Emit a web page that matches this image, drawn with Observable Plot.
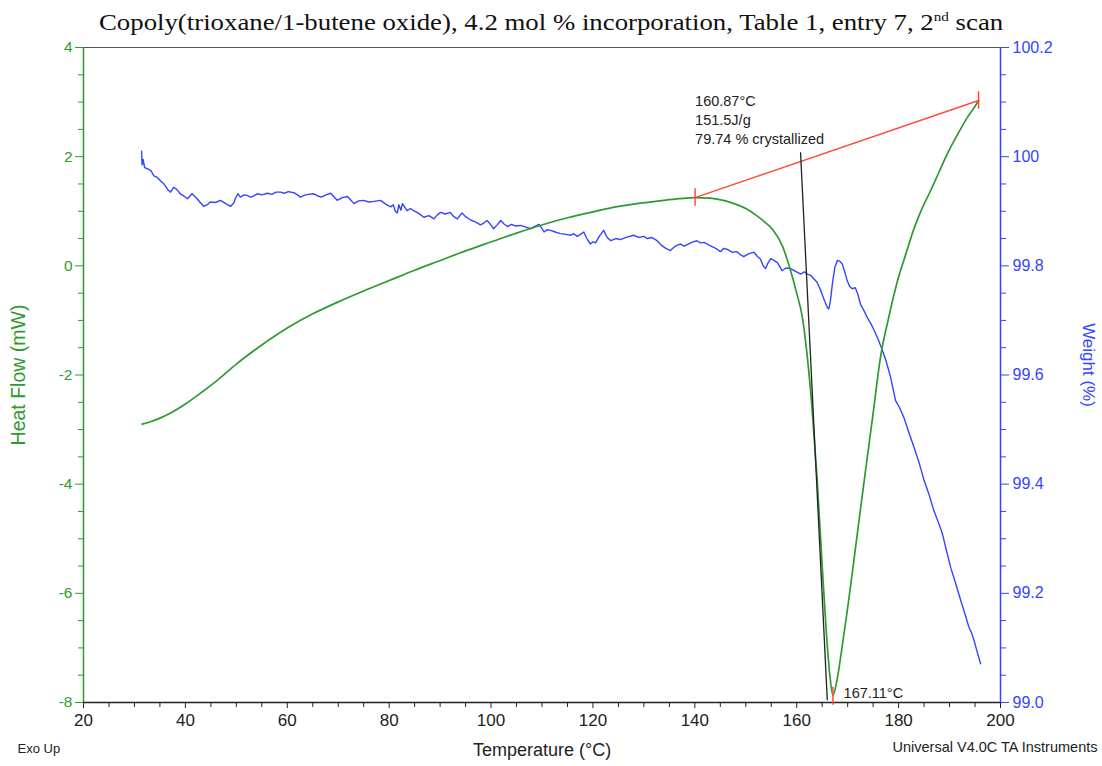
<!DOCTYPE html>
<html><head><meta charset="utf-8">
<script src="https://cdn.jsdelivr.net/npm/d3@7"></script>
<script src="https://cdn.jsdelivr.net/npm/@observablehq/plot@0.6"></script>
<style>
body{margin:0;background:#fff;width:1102px;height:766px;overflow:hidden;font-family:"Liberation Sans",Arial,sans-serif;}
#title{position:absolute;left:0;top:0;width:1102px;height:40px;text-align:center;font-family:"Liberation Serif","Times New Roman",serif;font-size:23px;line-height:46px;color:#111;white-space:nowrap;}
#title span{display:inline-block;transform:scaleX(1.165);transform-origin:center;}
#title sup{font-size:13px;vertical-align:0;position:relative;top:-9px}
#chart{position:absolute;left:0;top:40px;}
</style></head><body>
<div id="title"><span>Copoly(trioxane/1-butene oxide), 4.2 mol % incorporation, Table 1, entry 7, 2<sup>nd</sup> scan</span></div>
<div id="chart"></div>
<script>
// Heat flow (mW) vs temperature (°C)
const hfT  = [31.5,33,35,37,40,43,46.5,50,55,60,65,70,75,80,85,90.7,94,97.9,101,105,111.1,115,120,124,128,133.9,137,140,143,146,148,150,152,153.5,155.4,157.2,158.8,160,161.1,162,163,164,165,165.8,166.5,167.1,168.0,169.0,170.2,171.75,173.3,174.9,176.5,178.0,179.8,181.4,182.9,184.5,186.3,187.9,189.6,191.6,193.5,194.7,195.7];
const hfV  = [-2.90,-2.86,-2.79,-2.70,-2.53,-2.33,-2.08,-1.80,-1.45,-1.14,-0.88,-0.66,-0.46,-0.27,-0.08,0.12,0.24,0.37,0.47,0.60,0.78,0.88,0.99,1.07,1.13,1.20,1.23,1.25,1.24,1.19,1.13,1.05,0.93,0.82,0.65,0.36,-0.09,-0.50,-0.94,-1.6,-2.6,-3.9,-5.5,-6.7,-7.5,-7.87,-7.54,-6.92,-6.13,-5.01,-3.90,-2.77,-1.64,-0.97,-0.27,0.21,0.65,1.03,1.38,1.71,2.06,2.41,2.72,2.88,3.03];

// Weight (%) vs temperature (°C)
const wT = [31.4,31.5,31.7,32.0,32.5,33.2,33.8,34.5,35.2,35.8,36.5,37.1,37.7,38.3,39.0,39.7,40.4,41.3,42.3,43.0,43.6,44.3,44.9,45.9,46.9,47.9,48.9,49.5,49.8,50.3,50.8,51.5,52.1,52.8,53.4,54.1,55.0,56.1,57.0,57.8,58.7,59.5,60.2,61.3,62.0,62.6,63.3,64.0,65.2,66.0,66.7,67.6,68.5,69.2,69.8,70.8,71.8,72.5,73.1,74.0,75.0,76.0,77.0,78.3,79.3,80.3,80.8,81.2,81.6,81.9,82.3,82.6,83.5,84.2,84.8,85.8,86.8,87.8,88.8,89.4,90.1,91.0,92.0,92.7,93.4,94.3,95.0,96.0,97.0,97.9,98.5,99.2,99.8,100.5,101.2,101.9,102.5,103.2,104.0,104.8,105.8,106.8,107.8,108.5,109.4,110.0,110.4,111.0,111.7,112.6,113.6,114.5,115.6,116.2,116.9,117.6,118.2,118.8,119.5,120.0,120.5,121.3,122.1,122.8,123.5,124.5,125.4,126.5,128.0,129.0,130.0,130.7,131.5,132.6,133.4,134.3,135.2,136.0,136.6,137.2,137.9,138.5,139.4,140.4,141.1,141.8,142.8,143.7,144.4,145.0,145.7,146.4,147.3,148.3,149.0,149.6,150.5,151.6,152.3,152.9,153.4,153.9,154.4,154.9,155.5,156.2,156.7,157.1,157.9,158.8,159.8,160.8,161.5,162.1,162.8,163.4,164.0,164.7,165.5,166.0,166.3,166.6,167.0,167.5,168.0,168.5,168.9,169.4,169.9,170.4,170.9,171.5,172.0,172.5,173.2,173.8,174.5,175.2,176.0,176.7,177.5,178.4,179.4,180.2,181.0,182.0,183.0,184.0,185.0,186.0,186.9,187.8,188.6,189.4,190.2,191.2,192.2,193.0,193.8,194.3,194.8,195.5,196.1];
const wV = [100.010,99.985,99.995,99.980,99.978,99.975,99.965,99.962,99.955,99.950,99.940,99.935,99.944,99.940,99.932,99.928,99.923,99.932,99.923,99.915,99.909,99.912,99.917,99.916,99.920,99.914,99.909,99.915,99.923,99.932,99.926,99.930,99.929,99.926,99.928,99.932,99.930,99.933,99.931,99.935,99.935,99.933,99.936,99.934,99.930,99.926,99.929,99.931,99.932,99.928,99.926,99.930,99.933,99.926,99.920,99.925,99.927,99.920,99.914,99.919,99.920,99.917,99.918,99.920,99.913,99.908,99.912,99.900,99.897,99.912,99.902,99.914,99.901,99.905,99.901,99.896,99.889,99.892,99.886,99.893,99.898,99.895,99.898,99.890,99.886,99.897,99.890,99.884,99.880,99.875,99.878,99.883,99.877,99.868,99.875,99.883,99.877,99.872,99.876,99.873,99.874,99.871,99.868,99.872,99.876,99.868,99.862,99.866,99.865,99.862,99.859,99.858,99.856,99.859,99.854,99.858,99.862,99.850,99.840,99.844,99.842,99.855,99.865,99.852,99.846,99.850,99.848,99.852,99.856,99.852,99.854,99.850,99.852,99.846,99.838,99.832,99.828,99.835,99.838,99.840,99.836,99.839,99.843,99.846,99.842,99.843,99.838,99.834,99.830,99.826,99.832,99.830,99.825,99.826,99.820,99.817,99.822,99.825,99.817,99.812,99.800,99.795,99.806,99.813,99.810,99.806,99.798,99.791,99.796,99.795,99.790,99.785,99.789,99.785,99.782,99.776,99.770,99.755,99.735,99.724,99.721,99.735,99.767,99.798,99.810,99.808,99.804,99.790,99.773,99.762,99.758,99.760,99.748,99.730,99.718,99.706,99.695,99.682,99.665,99.648,99.627,99.597,99.553,99.540,99.523,99.495,99.468,99.440,99.407,99.380,99.352,99.330,99.309,99.278,99.248,99.218,99.187,99.163,99.138,99.128,99.114,99.090,99.071];

// Axes ticks and labels
const xMajor = [20,40,60,80,100,120,140,160,180,200];
const xMinor = d3.range(25,200,5).filter(v => v % 20 !== 0);
const hfMajor = [-8,-6,-4,-2,0,2,4];
const hfMinor = d3.range(-7.5,4,0.5).filter(v => v % 2 !== 0);
const wMajor = [99.0,99.2,99.4,99.6,99.8,100.0,100.2];
const wLabels = ["99.0","99.2","99.4","99.6","99.8","100","100.2"];
const wMinor = d3.range(0,25).map(i => 99 + i*0.05).filter((v,i) => i % 4 !== 0);

// Annotations (data units)
const baselineT = [140.05,195.7], baselineHF = [1.25,3.03];
const peakT = 167.11, peakHF = [-7.72,-8.05];
const onsetLineT = [160.75,166.0], onsetLineHF = [2.08,-7.96];
const noteLines = ["160.87°C","151.5J/g","79.74 % crystallized"];
const noteHF = [3.01,2.66,2.31];
const peakLabel = "167.11°C";

const green = "#2f9a2f", blue = "#3445ff", red = "#ff4b3b", ink = "#222";
const W2H = w => -8 + (w - 99) * 10;   // weight axis mapped onto the heat-flow scale

const hfData = hfT.map((t,i) => ({t, hf: hfV[i]}));
const wData = wT.map((t,i) => ({t, hf: W2H(wV[i])}));
const wLabelMap = new Map(wMajor.map((w,i) => [W2H(w).toFixed(3), wLabels[i]]));

const chart = Plot.plot({
  width: 1102, height: 726,
  marginTop: 7, marginBottom: 64, marginLeft: 83, marginRight: 102,
  style: {fontFamily: "Liberation Sans, Arial, sans-serif", background: "#fff", overflow: "visible"},
  x: {domain: [20,200]},
  y: {domain: [-8,4]},
  marks: [
    Plot.ruleY([4], {stroke: "#555", strokeWidth: 1.2}),
    Plot.axisX({ticks: xMajor, tickSize: 6, tickPadding: 5, fontSize: 17, label: null, stroke: ink, fill: ink, tickFormat: d => String(d)}),
    Plot.axisX({ticks: xMinor, tickSize: 5, label: null, stroke: ink, fill: "none"}),
    Plot.axisY({anchor: "left", ticks: hfMajor, tickSize: 8, tickPadding: 3, fontSize: 15.5, label: null, stroke: green, fill: green, tickFormat: d => String(d)}),
    Plot.axisY({anchor: "left", ticks: hfMinor, tickSize: 5, label: null, stroke: green, fill: "none"}),
    Plot.axisY({anchor: "right", ticks: wMajor.map(W2H), tickSize: 8, tickPadding: 4, fontSize: 16, label: null, stroke: blue, fill: blue, tickFormat: d => wLabelMap.get(d.toFixed(3))}),
    Plot.axisY({anchor: "right", ticks: wMinor.map(W2H), tickSize: 5, label: null, stroke: blue, fill: "none"}),
    Plot.ruleX([20], {stroke: green, strokeWidth: 1.5}),
    Plot.ruleX([200], {stroke: blue, strokeWidth: 1.5}),
    Plot.ruleY([-8], {stroke: ink, strokeWidth: 1.3}),
    Plot.line(wData, {x: "t", y: "hf", stroke: blue, strokeWidth: 1.4}),
    Plot.line(hfData, {x: "t", y: "hf", stroke: green, strokeWidth: 1.7, curve: "monotone-x"}),
    Plot.link([0], {x1: () => baselineT[0], y1: () => baselineHF[0], x2: () => baselineT[1], y2: () => baselineHF[1], stroke: red, strokeWidth: 1.5}),
    Plot.ruleX(baselineT, {x: d => d, y1: (d,i) => baselineHF[i] - 0.16, y2: (d,i) => baselineHF[i] + 0.16, stroke: red, strokeWidth: 1.5}),
    Plot.ruleX([peakT], {x: d => d, y1: peakHF[0], y2: peakHF[1], stroke: red, strokeWidth: 1.5}),
    Plot.link([0], {x1: () => onsetLineT[0], y1: () => onsetLineHF[0], x2: () => onsetLineT[1], y2: () => onsetLineHF[1], stroke: ink, strokeWidth: 1.3}),
    Plot.text(noteLines, {x: baselineT[0], y: (d,i) => noteHF[i], text: d => d, textAnchor: "start", fontSize: 14.5, fill: ink}),
    Plot.text([peakLabel], {x: 169.2, y: -7.84, text: d => d, textAnchor: "start", fontSize: 14.5, fill: ink}),
    Plot.text(["Temperature (°C)"], {text: d => d, frameAnchor: "bottom", dy: 53, fontSize: 18, fill: ink}),
    Plot.text(["Heat Flow (mW)"], {text: d => d, frameAnchor: "left", textAnchor: "middle", dx: -65, rotate: -90, fontSize: 19.5, fill: green}),
    Plot.text(["Weight (%)"], {text: d => d, frameAnchor: "right", textAnchor: "middle", dx: 88, dy: -10, rotate: 90, fontSize: 17, fill: blue}),
    Plot.text(["Exo Up"], {text: d => d, frameAnchor: "bottom-left", dx: -66, dy: 50, textAnchor: "start", fontSize: 13, fill: ink}),
    Plot.text(["Universal V4.0C TA Instruments"], {text: d => d, frameAnchor: "bottom-right", dx: 97, dy: 49, textAnchor: "end", fontSize: 14.5, fill: ink})
  ]
});
document.getElementById("chart").appendChild(chart);
</script>
</body></html>
